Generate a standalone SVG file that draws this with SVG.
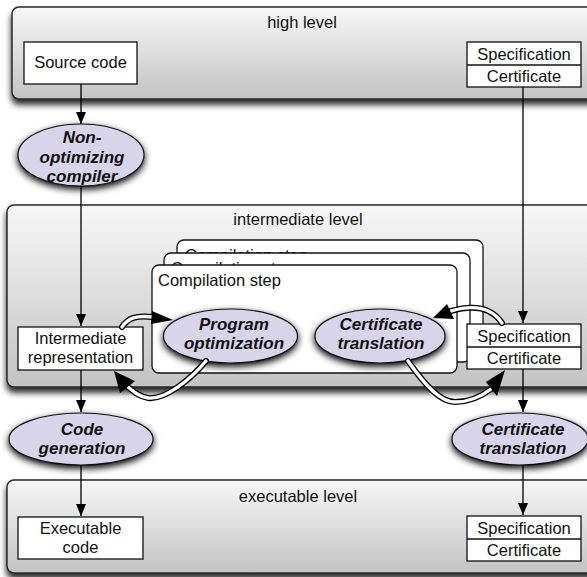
<svg xmlns="http://www.w3.org/2000/svg" width="587" height="577" viewBox="0 0 587 577">
  <defs>
    <linearGradient id="panelFill" x1="0" y1="0" x2="0" y2="1">
      <stop offset="0" stop-color="#f7f7f7"/>
      <stop offset="1" stop-color="#c3c3c3"/>
    </linearGradient>
    <filter id="panelShadow" x="-5%" y="-10%" width="110%" height="130%">
      <feDropShadow dx="0" dy="5" stdDeviation="3" flood-color="#000" flood-opacity="0.85"/>
    </filter>
    <filter id="ovalShadow" x="-20%" y="-30%" width="140%" height="170%">
      <feDropShadow dx="0" dy="3" stdDeviation="3.5" flood-color="#000" flood-opacity="1"/>
    </filter>
    <!-- the stacked steps behind only show the top strip of their caption -->
    <clipPath id="backStepClip">
      <rect x="170" y="240" width="320" height="13"/>
    </clipPath>
    <clipPath id="middleStepClip">
      <rect x="160" y="253" width="320" height="12"/>
    </clipPath>
    <marker id="arrow" viewBox="0 0 12 12" refX="12" refY="6" markerWidth="12" markerHeight="12" markerUnits="userSpaceOnUse" orient="auto">
      <path d="M0,1 L12,6 L0,11 Z" fill="#000"/>
    </marker>
  </defs>
  <style>
    .panel { fill: url(#panelFill); stroke: #2a2a2a; stroke-width: 1.5; filter: url(#panelShadow); }
    .frame { fill: #fff; stroke: #111; stroke-width: 1.3; }
    .box { fill: #fff; stroke: #111; stroke-width: 1.3; }
    .oval { fill: #d8d4e9; stroke: #111; stroke-width: 1.2; filter: url(#ovalShadow); }
    .label { font-family: "Liberation Sans", Arial, sans-serif; font-size: 16.5px; fill: #111; }
    .mid { text-anchor: middle; }
    .op { font-family: "Liberation Sans", Arial, sans-serif; font-size: 17px; font-weight: bold; font-style: italic; fill: #111; text-anchor: middle; }
    .conn { fill: none; stroke: #000; stroke-width: 1.3; marker-end: url(#arrow); }
    .hollowOuter { fill: none; stroke: #000; stroke-width: 6; stroke-linecap: round; }
    .hollowInner { fill: none; stroke: #fff; stroke-width: 3.4; stroke-linecap: round; }
    .head { fill: #000; }
  </style>

  <!-- level panels -->
  <g id="high-level">
    <rect class="panel" x="12" y="7" width="590" height="92" rx="7"/>
    <text class="label mid" x="302" y="28">high level</text>
  </g>
  <g id="intermediate-level">
    <rect class="panel" x="7" y="205" width="590" height="182" rx="7"/>
    <text class="label mid" x="298" y="225">intermediate level</text>
  </g>
  <g id="executable-level">
    <rect class="panel" x="7" y="480" width="590" height="93" rx="7"/>
    <text class="label mid" x="298" y="502">executable level</text>
  </g>

  <!-- stacked compilation steps -->
  <g id="compilation-steps">
    <rect class="frame" x="177" y="240" width="306" height="110" rx="7"/>
    <text class="label" x="185" y="261" clip-path="url(#backStepClip)">Compilation step</text>
    <rect class="frame" x="164" y="253" width="306" height="109" rx="7"/>
    <text class="label" x="171" y="274" clip-path="url(#middleStepClip)">Compilation step</text>
    <rect class="frame" x="152" y="265" width="305" height="108" rx="7"/>
    <text class="label" x="158" y="286">Compilation step</text>
  </g>

  <!-- straight connectors -->
  <g id="connectors">
    <path class="conn" d="M81,84 V124"/>
    <path class="conn" d="M81,186 V326"/>
    <path class="conn" d="M81,370 V412"/>
    <path class="conn" d="M81,465 V516"/>
    <path class="conn" d="M523,87 V323"/>
    <path class="conn" d="M523,369 V412"/>
    <path class="conn" d="M523,465 V515"/>
  </g>

  <!-- nodes -->
  <g id="source-code">
    <rect class="box" x="24" y="42" width="113" height="42"/>
    <text class="label mid" x="80.5" y="68">Source code</text>
  </g>
  <g id="spec-cert-high">
    <rect class="box" x="467" y="42" width="114" height="45"/>
    <line x1="467" y1="65" x2="581" y2="65" stroke="#111" stroke-width="1.3"/>
    <text class="label mid" x="524" y="60">Specification</text>
    <text class="label mid" x="524" y="82">Certificate</text>
  </g>
  <g id="non-optimizing-compiler">
    <ellipse class="oval" cx="81" cy="155" rx="63" ry="31"/>
    <text class="op" x="82" y="143">Non-</text>
    <text class="op" x="82" y="163">optimizing</text>
    <text class="op" x="82" y="182">compiler</text>
  </g>
  <g id="intermediate-representation">
    <rect class="box" x="18" y="327" width="125" height="43"/>
    <text class="label mid" x="80.5" y="344">Intermediate</text>
    <text class="label mid" x="80.5" y="363">representation</text>
  </g>
  <g id="program-optimization">
    <ellipse class="oval" cx="230.5" cy="336" rx="67" ry="27"/>
    <text class="op" x="234" y="330">Program</text>
    <text class="op" x="234" y="349">optimization</text>
  </g>
  <g id="certificate-translation-step">
    <ellipse class="oval" cx="380" cy="336" rx="65" ry="27"/>
    <text class="op" x="381" y="330">Certificate</text>
    <text class="op" x="381" y="349">translation</text>
  </g>
  <g id="spec-cert-intermediate">
    <rect class="box" x="467" y="324" width="114" height="45"/>
    <line x1="467" y1="347" x2="581" y2="347" stroke="#111" stroke-width="1.3"/>
    <text class="label mid" x="524" y="342">Specification</text>
    <text class="label mid" x="524" y="364">Certificate</text>
  </g>
  <g id="code-generation">
    <ellipse class="oval" cx="81" cy="439" rx="72" ry="26"/>
    <text class="op" x="82" y="435">Code</text>
    <text class="op" x="82" y="454">generation</text>
  </g>
  <g id="certificate-translation">
    <ellipse class="oval" cx="520" cy="439" rx="68" ry="26"/>
    <text class="op" x="523" y="435">Certificate</text>
    <text class="op" x="523" y="454">translation</text>
  </g>
  <g id="executable-code">
    <rect class="box" x="18" y="517" width="125" height="42"/>
    <text class="label mid" x="80.5" y="534">Executable</text>
    <text class="label mid" x="80.5" y="553">code</text>
  </g>
  <g id="spec-cert-executable">
    <rect class="box" x="467" y="516" width="114" height="45"/>
    <line x1="467" y1="539" x2="581" y2="539" stroke="#111" stroke-width="1.3"/>
    <text class="label mid" x="524" y="534">Specification</text>
    <text class="label mid" x="524" y="556">Certificate</text>
  </g>

  <!-- hollow curved flow arrows -->
  <g id="flow-arrows">
    <path class="hollowOuter" d="M122,327 C128,318 136,315 153,317"/>
    <path class="hollowInner" d="M122,327 C128,318 136,315 153,317"/>
    <polygon class="head" points="152,311 173,320 151,324"/>

    <path class="hollowOuter" d="M206,361 C190,380 165,400 148,398 C140,397 134,392 128,387"/>
    <path class="hollowInner" d="M206,361 C190,380 165,400 148,398 C140,397 134,392 128,387"/>
    <polygon class="head" points="114,371 135,381 120,393"/>

    <path class="hollowOuter" d="M502,323 C492,308 475,304 451,311"/>
    <path class="hollowInner" d="M502,323 C492,308 475,304 451,311"/>
    <polygon class="head" points="433,318 447,304 454,319"/>

    <path class="hollowOuter" d="M408,361 C425,385 440,402 455,402 C470,402 482,396 491,389"/>
    <path class="hollowInner" d="M408,361 C425,385 440,402 455,402 C470,402 482,396 491,389"/>
    <polygon class="head" points="505,370 486,382 497,396"/>
  </g>
</svg>
